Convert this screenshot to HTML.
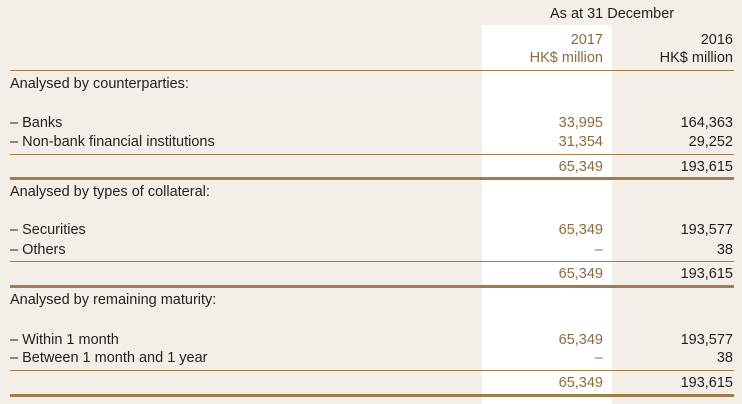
<!DOCTYPE html>
<html><head><meta charset="utf-8"><style>
body{margin:0;width:742px;height:404px;background:#f3efe8;position:relative;overflow:hidden;font-family:"Liberation Sans Narrow","Liberation Sans",sans-serif;font-size:14.5px;color:#231f20}
.t{position:absolute;white-space:nowrap;line-height:18px}
.c1{right:139px;color:#8b6a3e;text-align:right}
.c2{right:9px;text-align:right}
.l{position:absolute;left:10px;right:8px;background:#a27d4c;height:1px}
.k{height:2.5px}
#wc{position:absolute;left:482px;width:130px;top:25px;bottom:0;background:#fff}
</style></head><body>
<div id="wc"></div>
<div class="t" style="left:550px;top:5px">As at 31 December</div>
<div class="t c1" style="top:31px">2017</div>
<div class="t c1" style="top:49px">HK$ million</div>
<div class="t c2" style="top:31px">2016</div>
<div class="t c2" style="top:49px">HK$ million</div>
<div class="l" style="top:70px"></div>

<div class="t" style="left:10px;top:75px">Analysed by counterparties:</div>
<div class="t" style="left:10px;top:114px">– Banks</div>
<div class="t c1" style="top:114px">33,995</div>
<div class="t c2" style="top:114px">164,363</div>
<div class="t" style="left:10px;top:133px">– Non-bank financial institutions</div>
<div class="t c1" style="top:133px">31,354</div>
<div class="t c2" style="top:133px">29,252</div>
<div class="l" style="top:154px"></div>
<div class="t c1" style="top:158px">65,349</div>
<div class="t c2" style="top:158px">193,615</div>
<div class="l k" style="top:177px"></div>

<div class="t" style="left:10px;top:183px">Analysed by types of collateral:</div>
<div class="t" style="left:10px;top:221px">– Securities</div>
<div class="t c1" style="top:221px">65,349</div>
<div class="t c2" style="top:221px">193,577</div>
<div class="t" style="left:10px;top:241px">– Others</div>
<div class="t c1" style="top:241px">–</div>
<div class="t c2" style="top:241px">38</div>
<div class="l" style="top:261px"></div>
<div class="t c1" style="top:265px">65,349</div>
<div class="t c2" style="top:265px">193,615</div>
<div class="l k" style="top:285px"></div>

<div class="t" style="left:10px;top:291px">Analysed by remaining maturity:</div>
<div class="t" style="left:10px;top:331px">– Within 1 month</div>
<div class="t c1" style="top:331px">65,349</div>
<div class="t c2" style="top:331px">193,577</div>
<div class="t" style="left:10px;top:349px">– Between 1 month and 1 year</div>
<div class="t c1" style="top:349px">–</div>
<div class="t c2" style="top:349px">38</div>
<div class="l" style="top:370px"></div>
<div class="t c1" style="top:374px">65,349</div>
<div class="t c2" style="top:374px">193,615</div>
<div class="l k" style="top:394px"></div>
</body></html>
